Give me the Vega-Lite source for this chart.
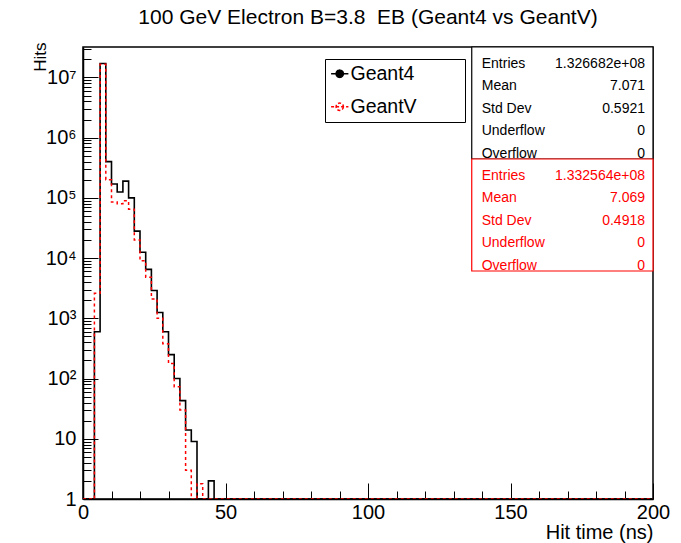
{
  "$schema": "https://vega.github.io/schema/vega-lite/v6.json",
  "width": 570,
  "height": 452,
  "autosize": {"type": "none"},
  "padding": {"left": 83, "top": 47, "right": 28, "bottom": 44},
  "background": "white",
  "title": {"text": "100 GeV Electron B=3.8\u00a0 EB (Geant4 vs GeantV)", "font": "Liberation Sans", "fontSize": 21, "fontWeight": "normal", "color": "black", "anchor": "middle", "offset": 14},
  "config": {"view": {"stroke": "black", "strokeWidth": 1.5}, "font": "Liberation Sans"},
  "datasets": {
    "hist": [
      {"t": 0, "hits": 1, "series": "Geant4"},
      {"t": 2, "hits": 1, "series": "Geant4"},
      {"t": 4, "hits": 600, "series": "Geant4"},
      {"t": 6, "hits": 17000000, "series": "Geant4"},
      {"t": 8, "hits": 400000, "series": "Geant4"},
      {"t": 10, "hits": 170000, "series": "Geant4"},
      {"t": 12, "hits": 125000, "series": "Geant4"},
      {"t": 14, "hits": 190000, "series": "Geant4"},
      {"t": 16, "hits": 100000, "series": "Geant4"},
      {"t": 18, "hits": 28000, "series": "Geant4"},
      {"t": 20, "hits": 12500, "series": "Geant4"},
      {"t": 22, "hits": 6500, "series": "Geant4"},
      {"t": 24, "hits": 2900, "series": "Geant4"},
      {"t": 26, "hits": 1250, "series": "Geant4"},
      {"t": 28, "hits": 600, "series": "Geant4"},
      {"t": 30, "hits": 250, "series": "Geant4"},
      {"t": 32, "hits": 100, "series": "Geant4"},
      {"t": 34, "hits": 43, "series": "Geant4"},
      {"t": 36, "hits": 14, "series": "Geant4"},
      {"t": 38, "hits": 9, "series": "Geant4"},
      {"t": 40, "hits": 1, "series": "Geant4"},
      {"t": 42, "hits": 1, "series": "Geant4"},
      {"t": 44, "hits": 2, "series": "Geant4"},
      {"t": 46, "hits": 1, "series": "Geant4"},
      {"t": 200, "hits": 1, "series": "Geant4"},
      {"t": 0, "hits": 1, "series": "GeantV"},
      {"t": 2, "hits": 1, "series": "GeantV"},
      {"t": 4, "hits": 2600, "series": "GeantV"},
      {"t": 6, "hits": 16500000, "series": "GeantV"},
      {"t": 8, "hits": 200000, "series": "GeantV"},
      {"t": 10, "hits": 85000, "series": "GeantV"},
      {"t": 12, "hits": 80000, "series": "GeantV"},
      {"t": 14, "hits": 90000, "series": "GeantV"},
      {"t": 16, "hits": 65000, "series": "GeantV"},
      {"t": 18, "hits": 20000, "series": "GeantV"},
      {"t": 20, "hits": 9000, "series": "GeantV"},
      {"t": 22, "hits": 4800, "series": "GeantV"},
      {"t": 24, "hits": 2100, "series": "GeantV"},
      {"t": 26, "hits": 1000, "series": "GeantV"},
      {"t": 28, "hits": 380, "series": "GeantV"},
      {"t": 30, "hits": 178, "series": "GeantV"},
      {"t": 32, "hits": 73, "series": "GeantV"},
      {"t": 34, "hits": 30, "series": "GeantV"},
      {"t": 36, "hits": 3, "series": "GeantV"},
      {"t": 38, "hits": 1, "series": "GeantV"},
      {"t": 40, "hits": 1.8, "series": "GeantV"},
      {"t": 42, "hits": 1, "series": "GeantV"},
      {"t": 200, "hits": 1, "series": "GeantV"}
    ],
    "boxes": [
      {"group": "Geant4", "start": 0, "end": 5},
      {"group": "GeantV", "start": 5, "end": 10}
    ],
    "stats": [
      {"group": "Geant4", "row": 0, "name": "Entries", "val": "1.326682e+08"},
      {"group": "Geant4", "row": 1, "name": "Mean", "val": "7.071"},
      {"group": "Geant4", "row": 2, "name": "Std Dev", "val": "0.5921"},
      {"group": "Geant4", "row": 3, "name": "Underflow", "val": "0"},
      {"group": "Geant4", "row": 4, "name": "Overflow", "val": "0"},
      {"group": "GeantV", "row": 5, "name": "Entries", "val": "1.332564e+08"},
      {"group": "GeantV", "row": 6, "name": "Mean", "val": "7.069"},
      {"group": "GeantV", "row": 7, "name": "Std Dev", "val": "0.4918"},
      {"group": "GeantV", "row": 8, "name": "Underflow", "val": "0"},
      {"group": "GeantV", "row": 9, "name": "Overflow", "val": "0"}
    ]
  },
  "layer": [
    {
      "data": {"name": "hist"},
      "transform": [{"filter": "datum.series === 'Geant4'"}],
      "mark": {"type": "line", "interpolate": "step-after", "strokeWidth": 1.6, "clip": true},
      "encoding": {
        "x": {
          "field": "t", "type": "quantitative",
          "scale": {"domain": [0, 200], "nice": false, "zero": false},
          "axis": {
            "orient": "bottom",
            "title": "Hit time (ns)", "titleFont": "Liberation Sans", "titleFontSize": 20, "titleFontWeight": "normal", "titleColor": "black",
            "titleAlign": "right", "titleBaseline": "middle", "titleX": 570, "titleY": 33,
            "values": [0, 50, 100, 150, 200],
            "labelFont": "Liberation Sans", "labelFontSize": 20, "labelColor": "black", "labelPadding": 19,
            "labelOverlap": false, "labelFlush": false,
            "tickColor": "black", "tickWidth": 1, "tickSize": -16,
            "domainColor": "black", "domainWidth": 1.5, "grid": false
          }
        },
        "y": {
          "field": "hits", "type": "quantitative",
          "scale": {"type": "log", "domain": [1, 32000000], "nice": false},
          "axis": {
            "orient": "left",
            "title": "Hits", "titleFont": "Liberation Sans", "titleFontSize": 17, "titleFontWeight": "normal", "titleColor": "black",
            "titleAngle": -90, "titleAlign": "right", "titleBaseline": "middle", "titleX": -43, "titleY": -5,
            "values": [1, 10, 100, 1000, 10000, 100000, 1000000, 10000000],
            "labelExpr": "datum.value === 1 ? '1' : datum.value === 10 ? '10' : datum.value === 100 ? '10²' : datum.value === 1000 ? '10³' : datum.value === 10000 ? '10⁴' : datum.value === 100000 ? '10⁵' : datum.value === 1000000 ? '10⁶' : '10⁷'",
            "labelFont": "Liberation Sans", "labelFontSize": 20, "labelColor": "black", "labelPadding": 22,
            "labelOverlap": false, "labelFlush": false,
            "tickColor": "black", "tickWidth": 1, "tickSize": -15,
            "domainColor": "black", "domainWidth": 1.5, "grid": false
          }
        },
        "color": {
          "field": "series", "type": "nominal",
          "scale": {"domain": ["Geant4", "GeantV"], "range": ["#000000", "#ff0000"]},
          "legend": {
            "title": null, "orient": "none", "legendX": 242, "legendY": 12,
            "symbolType": "M-1,0L1,0M0.42,0A0.42,0.42,0,1,1,-0.42,0A0.42,0.42,0,1,1,0.42,0Z",
            "symbolSize": 300, "symbolStrokeWidth": 1.5,
            "labelFont": "Liberation Sans", "labelFontSize": 19.5, "labelColor": "black", "labelOffset": 1,
            "labelExpr": "datum.label + '\u00a0\u00a0\u00a0\u00a0\u00a0\u00a0\u00a0\u00a0\u200b'",
            "padding": 5, "rowPadding": 12, "strokeColor": "black", "fillColor": "white", "cornerRadius": 0,
            "encode": {"symbols": {"update": {
              "fill": {"signal": "datum.value === 'Geant4' ? '#000000' : 'transparent'"},
              "strokeDash": {"signal": "datum.value === 'GeantV' ? [3,2] : [1,0]"}
            }}}
          }
        }
      }
    },
    {
      "data": {"name": "hist"},
      "transform": [{"filter": "datum.series === 'GeantV'"}],
      "mark": {"type": "line", "interpolate": "step-after", "strokeWidth": 1.5, "strokeDash": [3, 3], "clip": true},
      "encoding": {
        "x": {
          "field": "t", "type": "quantitative",
          "scale": {"domain": [0, 200], "nice": false, "zero": false},
          "axis": {
            "orient": "bottom", "title": null, "labels": false, "domain": false, "grid": false,
            "values": [10, 20, 30, 40, 60, 70, 80, 90, 110, 120, 130, 140, 160, 170, 180, 190],
            "tickColor": "black", "tickWidth": 1, "tickSize": -8
          }
        },
        "y": {
          "field": "hits", "type": "quantitative",
          "scale": {"type": "log", "domain": [1, 32000000], "nice": false},
          "axis": {
            "orient": "left", "title": null, "labels": false, "domain": false, "grid": false,
            "values": [2,3,4,5,6,7,8,9,20,30,40,50,60,70,80,90,200,300,400,500,600,700,800,900,2000,3000,4000,5000,6000,7000,8000,9000,20000,30000,40000,50000,60000,70000,80000,90000,200000,300000,400000,500000,600000,700000,800000,900000,2000000,3000000,4000000,5000000,6000000,7000000,8000000,9000000,20000000,30000000],
            "tickColor": "black", "tickWidth": 1, "tickSize": -8
          }
        },
        "color": {
          "field": "series", "type": "nominal",
          "scale": {"domain": ["Geant4", "GeantV"], "range": ["#000000", "#ff0000"]},
          "legend": {
            "title": null, "orient": "none", "legendX": 242, "legendY": 12,
            "symbolType": "M-1,0L1,0M0.42,0A0.42,0.42,0,1,1,-0.42,0A0.42,0.42,0,1,1,0.42,0Z",
            "symbolSize": 300, "symbolStrokeWidth": 1.5,
            "labelFont": "Liberation Sans", "labelFontSize": 19.5, "labelColor": "black", "labelOffset": 1,
            "labelExpr": "datum.label + '\u00a0\u00a0\u00a0\u00a0\u00a0\u00a0\u00a0\u00a0\u200b'",
            "padding": 5, "rowPadding": 12, "strokeColor": "black", "fillColor": "white", "cornerRadius": 0,
            "encode": {"symbols": {"update": {
              "fill": {"signal": "datum.value === 'Geant4' ? '#000000' : 'transparent'"},
              "strokeDash": {"signal": "datum.value === 'GeantV' ? [3,2] : [1,0]"}
            }}}
          }
        }
      }
    },
    {
      "layer": [
        {
          "data": {"name": "boxes"},
          "mark": {"type": "rect", "fill": "white", "strokeWidth": 1.2},
          "encoding": {
            "x": {"datum": 136.4, "type": "quantitative", "axis": null},
            "x2": {"datum": 200},
            "y": {"field": "start", "type": "quantitative", "scale": {"domain": [0, 20.18], "reverse": true, "nice": false, "zero": false}, "axis": null},
            "y2": {"field": "end"},
            "stroke": {"condition": {"test": "datum.group === 'GeantV'", "value": "#ff0000"}, "value": "#000000"}
          }
        },
        {
          "data": {"name": "stats"},
          "mark": {"type": "text", "align": "left", "baseline": "middle", "font": "Liberation Sans", "fontSize": 14, "yOffset": 17},
          "encoding": {
            "x": {"datum": 139.9, "type": "quantitative", "axis": null},
            "y": {"field": "row", "type": "quantitative", "axis": null},
            "text": {"field": "name"},
            "color": {"condition": {"test": "datum.group === 'GeantV'", "value": "#ff0000"}, "value": "#000000"}
          }
        },
        {
          "data": {"name": "stats"},
          "mark": {"type": "text", "align": "right", "baseline": "middle", "font": "Liberation Sans", "fontSize": 14, "yOffset": 17},
          "encoding": {
            "x": {"datum": 197.2, "type": "quantitative", "axis": null},
            "y": {"field": "row", "type": "quantitative", "axis": null},
            "text": {"field": "val"},
            "color": {"condition": {"test": "datum.group === 'GeantV'", "value": "#ff0000"}, "value": "#000000"}
          }
        }
      ]
    }
  ],
  "resolve": {"scale": {"y": "independent"}, "axis": {"x": "independent", "y": "independent"}}
}
